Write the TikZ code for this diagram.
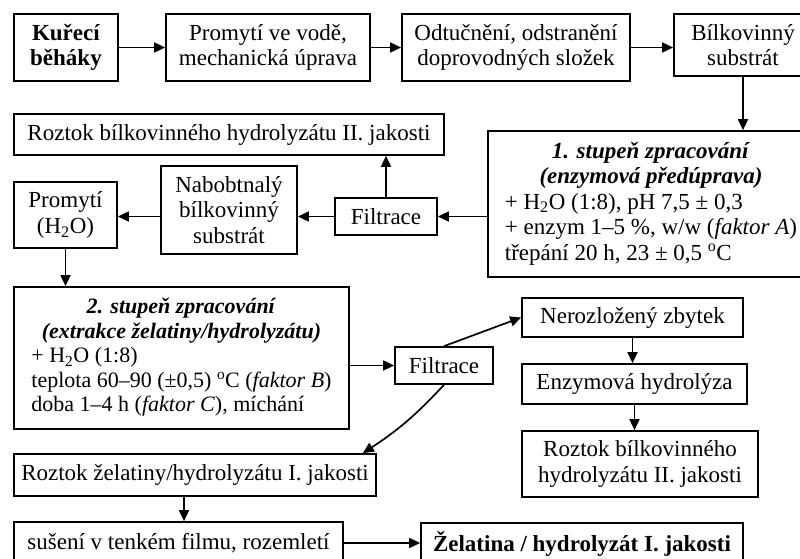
\documentclass[tikz,border=0pt]{standalone}
\usepackage{fontspec}
\setmainfont{Liberation Serif}
\usetikzlibrary{arrows.meta, positioning}

\begin{document}
\begin{tikzpicture}[
  x=1pt, y=-1pt,
  box/.style={rectangle, draw=black, line width=1.7pt, align=center, inner sep=2pt,
              font=\fontsize{23}{25.5}\selectfont},
  sz/.style 2 args={minimum width=#1pt, minimum height=#2pt},
  flow/.style={-{Triangle[length=11pt, width=10pt]}, line width=1.7pt}
]
  \useasboundingbox (0,0) rectangle (800,559);
  \clip (0,0) rectangle (800,559);

  % top row
  \node[box, sz={104}{67}] (kure) at (66,47.5) {\textbf{Kuřecí}\\\textbf{běháky}};
  \node[box, sz={204}{67}] (promyti) at (268,47.5) {Promytí ve vodě,\\mechanická úprava};
  \node[box, sz={228}{67}] (odtuc) at (516,47.5) {Odtučnění, odstranění\\doprovodných složek};
  \node[box, sz={138}{62}] (substrat) at (743,45) {Bílkovinný\\substrát};

  % first stage
  \node[box, sz={430}{41}] (roztokA) at (229,134.5) {Roztok bílkovinného hydrolyzátu II. jakosti};
  \node[box, sz={326}{146}] (stupen1) at (651,204) {\begin{tabular}{@{}l@{}}
      \multicolumn{1}{@{}c@{}}{\textbf{\textit{1. stupeň zpracování}}}\\
      \multicolumn{1}{@{}c@{}}{\textbf{\textit{(enzymová předúprava)}}}\\
      + H\textsubscript{2}O (1:8), pH 7,5 ± 0,3\\
      + enzym 1--5 \%, w/w (\textit{faktor A})\\
      třepání 20 h, 23 ± 0,5 \textsuperscript{o}C
    \end{tabular}};
  \node[box, sz={102}{37}] (filtrA) at (386,216.5) {Filtrace};
  \node[box, sz={136}{88}] (nabobt) at (229,210) {Nabobtnalý\\bílkovinný\\substrát};
  \node[box, sz={103}{66}] (promyti2) at (65.5,215) {Promytí\\(H\textsubscript{2}O)};

  % second stage
  \node[box, sz={335}{142}, font=\fontsize{22}{24.5}\selectfont] (stupen2) at (181.5,358) {\begin{tabular}{@{}l@{}}
      \multicolumn{1}{@{}c@{}}{\textbf{\textit{2. stupeň zpracování}}}\\
      \multicolumn{1}{@{}c@{}}{\textbf{\textit{(extrakce želatiny/hydrolyzátu)}}}\\
      + H\textsubscript{2}O (1:8)\\
      teplota 60--90 (±0,5) \textsuperscript{o}C (\textit{faktor B})\\
      doba 1--4 h (\textit{faktor C}), míchání
    \end{tabular}};
  \node[box, sz={98}{37}] (filtrB) at (444,365.5) {Filtrace};
  \node[box, sz={221}{39}] (nerozl) at (632.5,317.5) {Nerozložený zbytek};
  \node[box, sz={225}{40}] (enzhyd) at (634.5,384) {Enzymová hydrolýza};
  \node[box, sz={236}{66}] (roztokB) at (640,464) {Roztok bílkovinného\\hydrolyzátu II. jakosti};

  % final products
  \node[box, sz={362}{42}] (roztokZ) at (195,475) {Roztok želatiny/hydrolyzátu I. jakosti};
  \node[box, sz={329}{42}] (suseni) at (178.5,543) {sušení v tenkém filmu, rozemletí};
  \node[box, sz={322}{42}] (zelatina) at (582,544) {\textbf{Želatina / hydrolyzát I. jakosti}};

  % connectors
  \draw[flow] (kure) -- (promyti);
  \draw[flow] (promyti) -- (odtuc);
  \draw[flow] (odtuc.east) -- (odtuc.east -| substrat.west);
  \draw[flow] (substrat) -- (substrat |- stupen1.north);
  \draw[flow] (stupen1.west |- filtrA) -- (filtrA);
  \draw[flow] (filtrA) -- (filtrA |- roztokA.south);
  \draw[flow] (filtrA) -- (filtrA -| nabobt.east);
  \draw[flow] (nabobt.west |- filtrA) -- (filtrA -| promyti2.east);
  \draw[flow] (promyti2) -- (promyti2 |- stupen2.north);
  \draw[flow] (stupen2.east |- filtrB) -- (filtrB);
  \draw[flow] (filtrB.north) -- (nerozl.west);
  \draw[flow] (nerozl) -- (nerozl |- enzhyd.north);
  \draw[flow] (enzhyd) -- (enzhyd |- roztokB.north);
  \draw[flow] (filtrB.south) to[bend left=7] ([xshift=-14pt]roztokZ.north east);
  \draw[flow] ([xshift=-11pt]roztokZ.south) -- ([xshift=-11pt]roztokZ.south |- suseni.north);
  \draw[flow] (suseni) -- (suseni -| zelatina.west);
\end{tikzpicture}
\end{document}
